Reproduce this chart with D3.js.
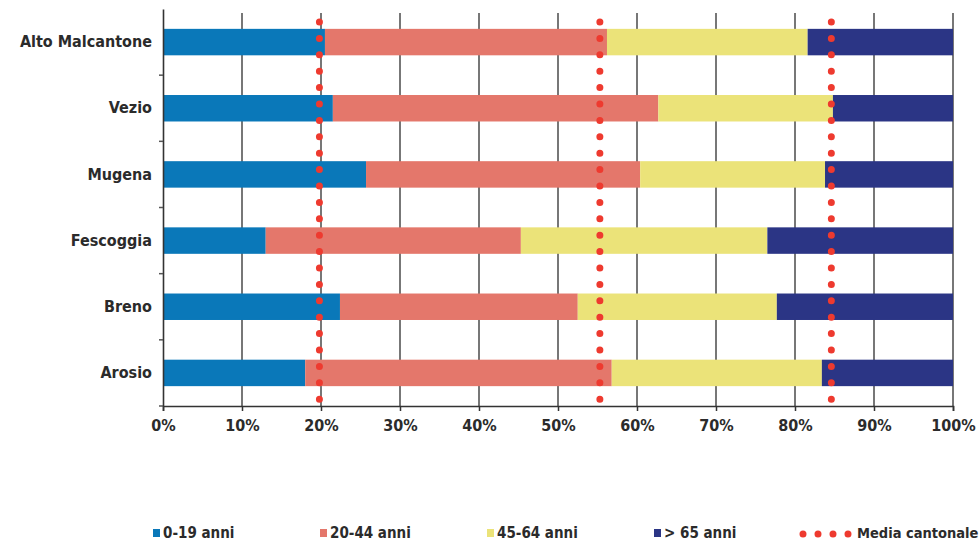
<!DOCTYPE html>
<html>
<head>
<meta charset="utf-8">
<title>Popolazione per classi d'età</title>
<script src="https://d3js.org/d3.v7.min.js"></script>
<style>
  body { margin: 0; background: #fff; }
  text { font-family: "DejaVu Sans Condensed", "Liberation Sans Narrow", sans-serif; font-weight: bold; fill: #2b2b2b; }
  .grid line { stroke: #555; stroke-width: 1.6px; }
</style>
</head>
<body>
<script>
var width = 980, height = 544;
var margin = {top: 9, right: 27, bottom: 138, left: 163};

// dati
var comuni = ["Alto Malcantone", "Vezio", "Mugena", "Fescoggia", "Breno", "Arosio"];
var classi = ["0-19 anni", "20-44 anni", "45-64 anni", "> 65 anni"];
var eta0_19  = [20.5, 21.5, 25.7, 13.0, 22.4, 18.0];
var eta20_44 = [35.7, 41.2, 34.7, 32.3, 30.1, 38.8];
var eta45_64 = [25.4, 22.1, 23.4, 31.2, 25.2, 26.6];
var eta65    = [18.4, 15.2, 16.2, 23.5, 22.3, 16.6];
var mediaCantonale = [19.8, 55.3, 84.6];
var ticks = [0, 10, 20, 30, 40, 50, 60, 70, 80, 90, 100];

var colori = ["#0a78b9", "#e4776b", "#ebe379", "#2b3585"];

var serie = [eta0_19, eta20_44, eta45_64, eta65];
var rows = comuni.map(function(c, i) {
    var r = {comune: c};
    classi.forEach(function(k, j) { r[k] = serie[j][i]; });
    return r;
});
var stack = d3.stack().keys(classi)(rows);

var svg = d3.select("body").append("svg")
    .attr("width", width).attr("height", height);

var w = width - margin.left - margin.right,
    h = height - margin.top - margin.bottom;

var g = svg.append("g").attr("transform", "translate(" + margin.left + "," + margin.top + ")");

var x = d3.scaleLinear().domain([0, 100]).range([0, w]);
var y = d3.scaleBand().domain(comuni).range([0, h]).paddingInner(0.6).paddingOuter(0.3);

// griglia
g.append("g").attr("class", "grid")
    .selectAll("line").data(ticks.slice(1)).enter().append("line")
    .attr("x1", function(d) { return x(d); }).attr("x2", function(d) { return x(d); })
    .attr("y1", 4).attr("y2", h);

// barre
g.selectAll(".serie").data(stack).enter().append("g")
    .attr("fill", function(d, i) { return colori[i]; })
  .selectAll("rect").data(function(d) { return d; }).enter().append("rect")
    .attr("x", function(d) { return x(d[0]); })
    .attr("width", function(d) { return x(d[1]) - x(d[0]); })
    .attr("y", function(d) { return y(d.data.comune); })
    .attr("height", y.bandwidth());

// asse x
var xAxis = g.append("g").attr("transform", "translate(0," + h + ")")
    .call(d3.axisBottom(x).tickValues(ticks).tickFormat(function(d) { return d + "%"; }).tickSize(5).tickPadding(9));
xAxis.select(".domain").attr("stroke", "#333").attr("stroke-width", 1.6);
xAxis.selectAll(".tick line").attr("stroke", "#333").attr("stroke-width", 1.5);
xAxis.selectAll("text").style("font-size", "16px").attr("fill", "#2b2b2b");

// asse y
var yAxis = g.append("g")
    .call(d3.axisLeft(y).tickSize(0).tickPadding(11));
yAxis.select(".domain").attr("stroke", "#333").attr("stroke-width", 1.6);
yAxis.selectAll("text").style("font-size", "16px").attr("fill", "#2b2b2b");
var step = y.step();
g.selectAll(".ytick").data(comuni).enter().append("line")
    .attr("x1", -4).attr("x2", 0)
    .attr("y1", function(d) { return y(d) + y.bandwidth() + (step - y.bandwidth()) / 2; })
    .attr("y2", function(d) { return y(d) + y.bandwidth() + (step - y.bandwidth()) / 2; })
    .attr("stroke", "#555").attr("stroke-width", 1.5);

// media cantonale
g.selectAll(".media").data(mediaCantonale).enter().append("line")
    .attr("x1", function(d) { return x(d); }).attr("x2", function(d) { return x(d); })
    .attr("y1", 13).attr("y2", h + 7)
    .attr("stroke", "#ee3a2f").attr("stroke-width", 7)
    .attr("stroke-linecap", "round")
    .attr("stroke-dasharray", "0,16.4");

// legenda
var leg = svg.append("g").attr("transform", "translate(0,533)");
var legX = [153, 320, 487, 654];
classi.forEach(function(k, i) {
    leg.append("rect").attr("x", legX[i]).attr("y", -4).attr("width", 7).attr("height", 8).attr("fill", colori[i]);
    leg.append("text").attr("x", legX[i] + 10).attr("y", 5).style("font-size", "15px").text(k);
});
leg.append("line").attr("x1", 803).attr("x2", 850).attr("y1", 1).attr("y2", 1)
    .attr("stroke", "#ee3a2f").attr("stroke-width", 7).attr("stroke-linecap", "round")
    .attr("stroke-dasharray", "0,15");
leg.append("text").attr("x", 857).attr("y", 5).style("font-size", "14.5px").text("Media cantonale");
</script>
</body>
</html>
